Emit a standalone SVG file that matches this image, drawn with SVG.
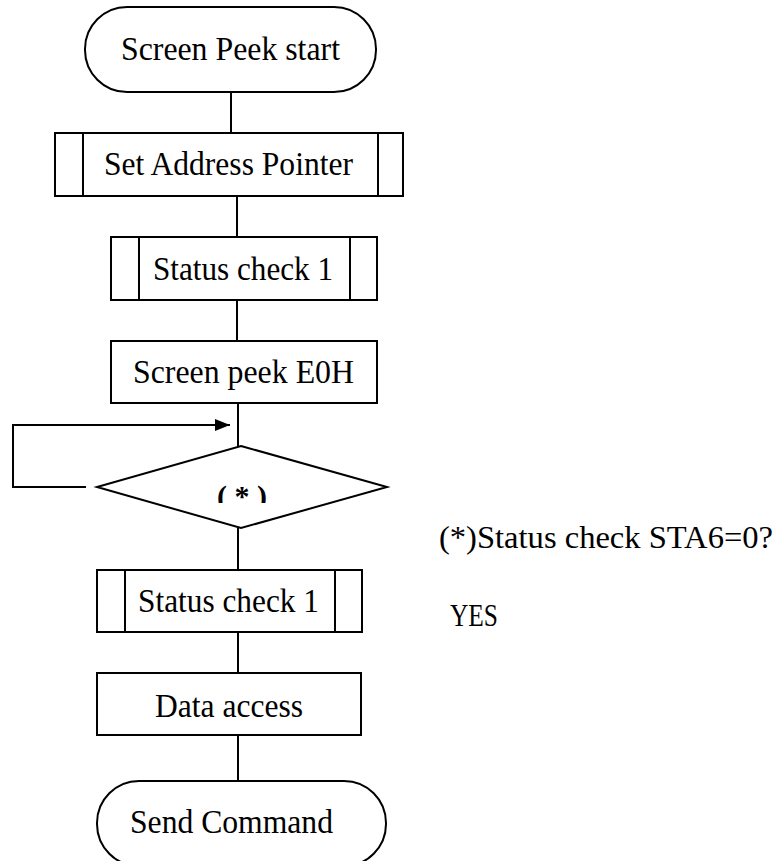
<svg xmlns="http://www.w3.org/2000/svg" width="774" height="861" viewBox="0 0 774 861">
<style>
.shape{fill:#fff;stroke:#000;stroke-width:2}
.inner{stroke:#000;stroke-width:2}
.conn{fill:none;stroke:#000;stroke-width:2}
.lbl{font-size:33px;text-anchor:middle;fill:#000}
.note{font-size:32px;fill:#000}
</style>
<defs>
<marker id="arrow" markerUnits="userSpaceOnUse" markerWidth="16" markerHeight="14" refX="15" refY="6" orient="auto">
<path d="M0,0 L15,6 L0,12 Z" fill="#000"/>
</marker>
<clipPath id="clipStar"><rect x="200" y="470" width="90" height="33"/></clipPath>
</defs>
<rect width="774" height="861" fill="#fff"/>
<g id="connectors">
<line class="conn" x1="231" y1="92" x2="231" y2="133"/>
<line class="conn" x1="237" y1="196" x2="237" y2="237"/>
<line class="conn" x1="237" y1="300" x2="237" y2="341"/>
<line class="conn" x1="238" y1="403" x2="238" y2="446"/>
<polyline class="conn" points="86,487 13,487 13,425 230,425" marker-end="url(#arrow)"/>
<line class="conn" x1="238" y1="528" x2="238" y2="570"/>
<line class="conn" x1="238" y1="632" x2="238" y2="673"/>
<line class="conn" x1="238" y1="735" x2="238" y2="781"/>
</g>
<g font-family="Liberation Serif, serif">
<g id="start">
<rect class="shape" x="85" y="7" width="291" height="85" rx="42" ry="42"/>
<text class="lbl" x="230.5" y="60" textLength="219" lengthAdjust="spacingAndGlyphs">Screen Peek start</text>
</g>
<g id="set_address_pointer">
<rect class="shape" x="55" y="133" width="348" height="63"/>
<line class="inner" x1="83" y1="133" x2="83" y2="196"/>
<line class="inner" x1="378" y1="133" x2="378" y2="196"/>
<text class="lbl" x="228.5" y="175" textLength="249" lengthAdjust="spacingAndGlyphs">Set Address Pointer</text>
</g>
<g id="status_check_1a">
<rect class="shape" x="111" y="237" width="266" height="63"/>
<line class="inner" x1="139" y1="237" x2="139" y2="300"/>
<line class="inner" x1="350" y1="237" x2="350" y2="300"/>
<text class="lbl" x="243" y="280" textLength="180" lengthAdjust="spacingAndGlyphs">Status check 1</text>
</g>
<g id="screen_peek">
<rect class="shape" x="111" y="341" width="266" height="62"/>
<text class="lbl" x="243.5" y="383" textLength="221" lengthAdjust="spacingAndGlyphs">Screen peek E0H</text>
</g>
<g id="decision">
<polygon class="shape" points="241,446 387,487 241,528 97,487"/>
<text class="lbl" x="242" y="506" style="font-size:30px;font-weight:bold" textLength="50" lengthAdjust="spacing" clip-path="url(#clipStar)">( * )</text>
</g>
<g id="status_check_1b">
<rect class="shape" x="97" y="570" width="265" height="62"/>
<line class="inner" x1="125" y1="570" x2="125" y2="632"/>
<line class="inner" x1="335" y1="570" x2="335" y2="632"/>
<text class="lbl" x="228.5" y="612" textLength="181" lengthAdjust="spacingAndGlyphs">Status check 1</text>
</g>
<g id="data_access">
<rect class="shape" x="97" y="673" width="264" height="62"/>
<text class="lbl" x="229" y="717" textLength="148" lengthAdjust="spacingAndGlyphs">Data access</text>
</g>
<g id="send_command">
<rect class="shape" x="97" y="781" width="289" height="85" rx="42" ry="42"/>
<text class="lbl" x="231.5" y="833" textLength="203" lengthAdjust="spacingAndGlyphs">Send Command</text>
</g>
<g id="notes">
<text class="note" x="439" y="548" textLength="334" lengthAdjust="spacingAndGlyphs">(*)Status check STA6=0?</text>
<text class="note" x="450" y="626" textLength="48" lengthAdjust="spacingAndGlyphs">YES</text>
</g>
</g>
</svg>
